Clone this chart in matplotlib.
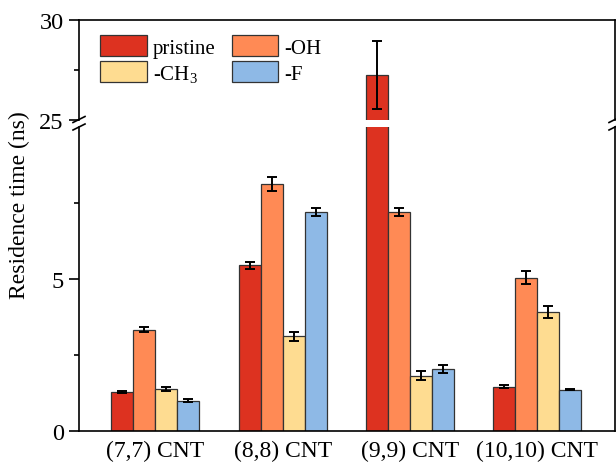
import numpy as np
import matplotlib
matplotlib.use("Agg")
import matplotlib.pyplot as plt
from matplotlib.lines import Line2D

plt.rcParams['font.family'] = ['Liberation Serif', 'DejaVu Serif']
plt.rcParams['mathtext.fontset'] = 'custom'
plt.rcParams['mathtext.rm'] = 'Liberation Serif'
plt.rcParams['mathtext.it'] = 'Liberation Serif:italic'

# data
groups = ['(7,7) CNT', '(8,8) CNT', '(9,9) CNT', '(10,10) CNT']
series = ['pristine', '-OH', '-CH$_3$', '-F']
pristine = [1.28, 5.45, 27.25, 1.47]
oh = [3.34, 8.12, 7.20, 5.05]
ch3 = [1.39, 3.12, 1.83, 3.92]
f_vals = [1.01, 7.20, 2.05, 1.37]
pristine_err = [0.03, 0.11, 1.70, 0.04]
oh_err = [0.09, 0.23, 0.14, 0.22]
ch3_err = [0.08, 0.14, 0.15, 0.19]
f_err = [0.06, 0.13, 0.12, 0.02]
colors = ['#DD3220', '#FF8A55', '#FEDC91', '#8EB9E6']

values = [pristine, oh, ch3, f_vals]
errors = [pristine_err, oh_err, ch3_err, f_err]

# axes geometry (pixels)
W, H = 616, 464
left, right = 79, 615
low_bot, low_top = 432.3, 128
up_bot, up_top = 121, 21

fig = plt.figure(figsize=(W / 100, H / 100), dpi=100)
ax_lo = fig.add_axes([left / W, 1 - low_bot / H, (right - left) / W, (low_bot - low_top) / H])
ax_up = fig.add_axes([left / W, 1 - up_bot / H, (right - left) / W, (up_bot - up_top) / H])

x = np.arange(len(groups))
bw = 0.173
handles = []
for ax in (ax_lo, ax_up):
    handles = []
    for i, (vals, errs) in enumerate(zip(values, errors)):
        pos = x + (i - 1.5) * bw
        b = ax.bar(pos, vals, bw, color=colors[i], edgecolor='#333333', linewidth=0.9,
                   label=series[i], zorder=2)
        handles.append(b)
        ax.errorbar(pos, vals, yerr=errs, fmt='none', ecolor='black',
                    elinewidth=1.4, capsize=3.5, capthick=1.4, zorder=3)
    ax.set_xlim(-0.6, 3.61)
    for sp in ax.spines.values():
        sp.set_linewidth(1.2)

ax_lo.set_ylim(0, 10)
ax_lo.set_yticks([0, 5])
ax_lo.set_yticks([2.5, 7.5], minor=True)
ax_lo.spines['top'].set_visible(False)
ax_lo.set_xticks(x)
ax_lo.set_xticklabels(groups, fontsize=17)
ax_lo.tick_params(axis='x', length=0, pad=6)

ax_up.set_ylim(25, 30)
ax_up.set_yticks([25, 30])
ax_up.set_yticks([27.5], minor=True)
ax_up.spines['bottom'].set_visible(False)
ax_up.set_xticks([])

for ax in (ax_lo, ax_up):
    ax.tick_params(axis='y', which='major', direction='out', length=7, width=1.2,
                   labelsize=17.5, pad=4)
    ax.tick_params(axis='y', which='minor', direction='out', length=3.5, width=1.2)

# break marks on both spines
for xp in (left, right):
    for yp in (120.5, 128):
        fig.add_artist(Line2D([(xp - 6) / W, (xp + 6) / W],
                              [1 - (yp + 3) / H, 1 - (yp - 3) / H],
                              color='black', linewidth=1.2,
                              transform=fig.transFigure))

# legend filled row by row: pristine, -OH / -CH3, -F
order = [0, 2, 1, 3]
ax_up.legend([handles[k] for k in order], [series[k] for k in order],
             ncol=2, loc='upper left', bbox_to_anchor=(100 / W, 1 - 36 / H),
             bbox_transform=fig.transFigure, frameon=False, fontsize=15,
             handlelength=2.25, handleheight=1.2, handletextpad=0.3,
             labelspacing=0.15, columnspacing=0.75, borderpad=0, borderaxespad=0)

fig.text(0.032, 1 - 205 / H, 'Residence time (ns)', rotation=90, fontsize=17,
         ha='center', va='center')

fig.savefig('out.png', dpi=100)
